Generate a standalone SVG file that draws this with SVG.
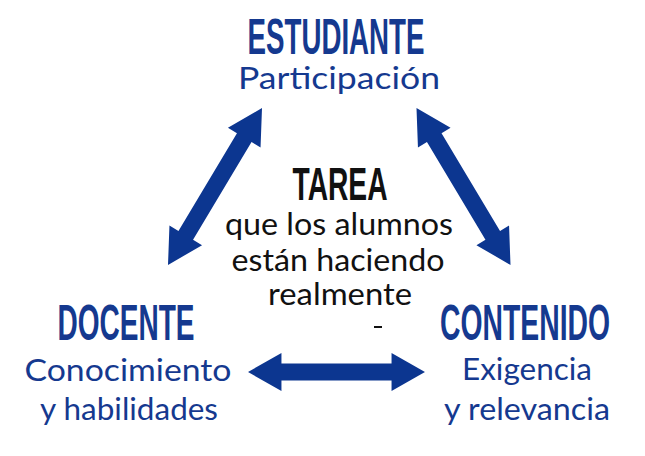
<svg xmlns="http://www.w3.org/2000/svg" width="645" height="456" viewBox="0 0 645 456">
<style>
.h{font-family:"Liberation Sans",Arial,sans-serif;font-weight:bold;fill:#15398f;text-anchor:middle}
.s{font-family:Lato,"Open Sans",sans-serif;fill:#15398f;text-anchor:middle;font-size:31px}
.c{font-family:Lato,"Open Sans",sans-serif;fill:#111;text-anchor:middle;font-size:30px}
.a{fill:#0c3690}
</style>
<defs><path id="arr" d="M-90,0 L-56,-19 L-56,-8.5 L56,-8.5 L56,-19 L90,0 L56,19 L56,8.5 L-56,8.5 L-56,19 Z"/></defs>
<rect width="645" height="456" fill="#fff"/>
<g id="connectors" class="a">
<use href="#arr" transform="translate(336.5,372) scale(0.983,1)"/>
<use href="#arr" transform="translate(215,186.5) rotate(120.9) scale(1.017,1)"/>
<use href="#arr" transform="translate(463.5,186.5) rotate(59.1) scale(1.017,1)"/>
</g>
<g id="estudiante">
<text class="h" x="336" y="54" font-size="50" textLength="177" lengthAdjust="spacingAndGlyphs">ESTUDIANTE</text>
<text class="s" x="339" y="89" textLength="202" lengthAdjust="spacingAndGlyphs">Participación</text>
</g>
<g id="docente">
<text class="h" x="126" y="340" font-size="50" textLength="137" lengthAdjust="spacingAndGlyphs">DOCENTE</text>
<text class="s" x="128" y="381" textLength="207" lengthAdjust="spacingAndGlyphs">Conocimiento</text>
<text class="s" x="129" y="420" textLength="178" lengthAdjust="spacingAndGlyphs">y habilidades</text>
</g>
<g id="contenido">
<text class="h" x="525" y="340" font-size="50" textLength="170" lengthAdjust="spacingAndGlyphs">CONTENIDO</text>
<text class="s" x="527" y="380" textLength="130" lengthAdjust="spacingAndGlyphs">Exigencia</text>
<text class="s" x="527" y="420" textLength="166" lengthAdjust="spacingAndGlyphs">y relevancia</text>
</g>
<g id="tarea">
<text class="h" x="340" y="200" font-size="47" style="fill:#111" textLength="95" lengthAdjust="spacingAndGlyphs">TAREA</text>
<text class="c" x="339" y="235" textLength="228" lengthAdjust="spacingAndGlyphs">que los alumnos</text>
<text class="c" x="338" y="271" textLength="213" lengthAdjust="spacingAndGlyphs">están haciendo</text>
<text class="c" x="340" y="305" textLength="144" lengthAdjust="spacingAndGlyphs">realmente</text>
<rect x="374" y="326" width="8" height="2" fill="#111"/>
</g>
</svg>
